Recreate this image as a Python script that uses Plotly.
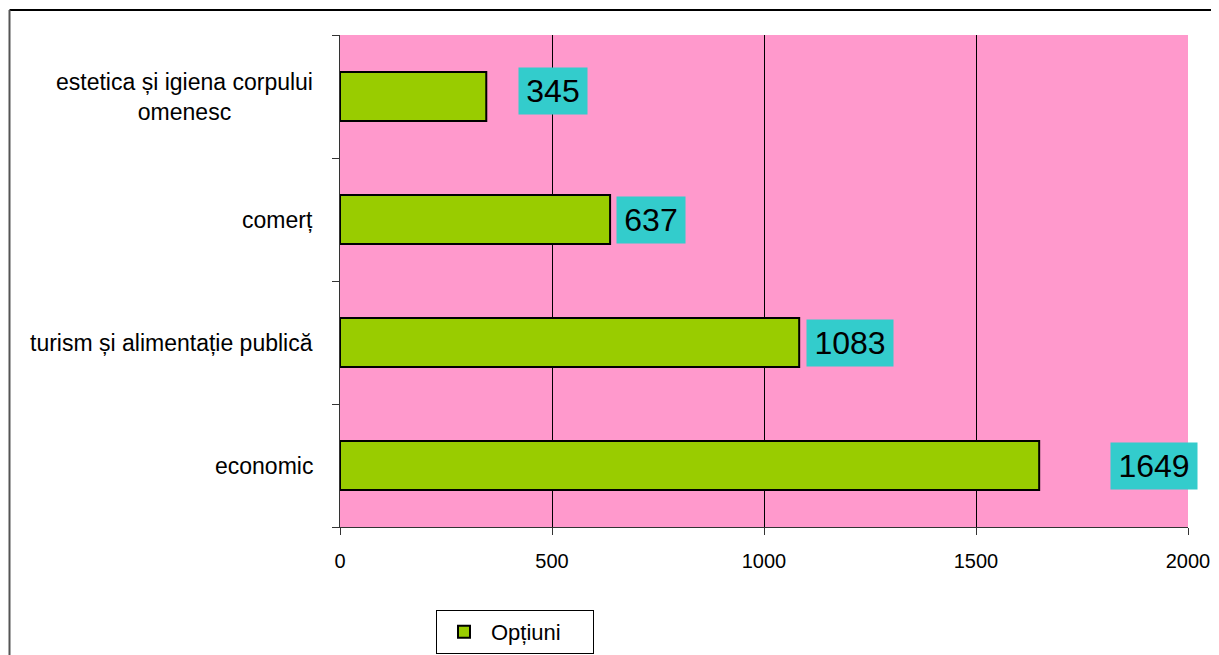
import plotly.graph_objects as go

categories = ["economic", "turism și alimentație publică", "comerț",
              "estetica și igiena corpului<br>omenesc"]
values = [1649, 1083, 637, 345]
label_xshift = [115, 51, 41, 67]
label_yshift = [0, 0, 0, 6]
series_name = "Opțiuni"
x_ticks = [0, 500, 1000, 1500, 2000]

FONT = "Liberation Sans, Arial"
# page body adds an 8px offset; compensate
OFF = 8
W, H = 1219 - OFF, 655 - OFF
L, T = 340 - OFF, 35 - OFF
pw, ph = 848, 492
R = W - L - pw
B = H - T - ph

fig = go.Figure()
fig.add_trace(go.Bar(
    x=values, y=categories, orientation="h", name=series_name,
    marker=dict(color="#99CC00", line=dict(color="black", width=2)),
    width=0.4, showlegend=True,
))

for v, c, dx, dy in zip(values, categories, label_xshift, label_yshift):
    txt = str(v)
    fig.add_annotation(
        x=v, y=c, xref="x", yref="y", text=txt, showarrow=False,
        xanchor="center", yanchor="middle", xshift=dx, yshift=dy,
        font=dict(family=FONT, size=32, color="black"),
        bgcolor="#33CCCC", borderpad=5, width=18 * len(txt) + 4,
    )

# category labels (centered multi-line, like the original)
for c in categories:
    fig.add_annotation(
        x=0, y=c, xref="paper", yref="y", text=c, showarrow=False,
        xanchor="right", yanchor="middle", xshift=-25, align="center",
        font=dict(family=FONT, size=23, color="black"),
    )

# outer chart border (top and left lines)
top_y = 1 + (T + OFF - 10) / ph
left_x = (1.5 - L) / pw
fig.add_shape(type="line", xref="paper", yref="paper",
              x0=left_x, x1=(W + 5 - L) / pw, y0=top_y, y1=top_y,
              line=dict(color="black", width=2))
fig.add_shape(type="line", xref="paper", yref="paper",
              x0=left_x, x1=left_x, y0=top_y, y1=-(H + 5 - T - ph) / ph,
              line=dict(color="#555555", width=2))

fig.update_layout(
    width=W, height=H,
    margin=dict(l=L, r=R, t=T, b=B, autoexpand=False),
    paper_bgcolor="white", plot_bgcolor="#FF99CC",
    font=dict(family=FONT, size=20, color="black"),
    xaxis=dict(range=[0, 2000], tickvals=x_ticks, showgrid=True,
               gridcolor="black", gridwidth=1, zeroline=False,
               showline=True, linecolor="#333333", linewidth=1,
               ticks="outside", ticklen=7, tickcolor="#333333",
               ticklabelstandoff=9, fixedrange=True),
    yaxis=dict(categoryorder="array", categoryarray=categories,
               tickson="boundaries", ticks="outside", ticklen=7,
               tickcolor="#333333", showline=True, linecolor="#333333",
               linewidth=1, showgrid=False, showticklabels=False),
    legend=dict(x=(436 - OFF - L) / pw, y=-(610 - OFF - (T + ph)) / ph,
                xanchor="left", yanchor="top", orientation="h",
                bordercolor="black", borderwidth=1, bgcolor="white",
                itemwidth=44, entrywidth=97,
                font=dict(family=FONT, size=22)),
)

fig.write_html("out.html")
